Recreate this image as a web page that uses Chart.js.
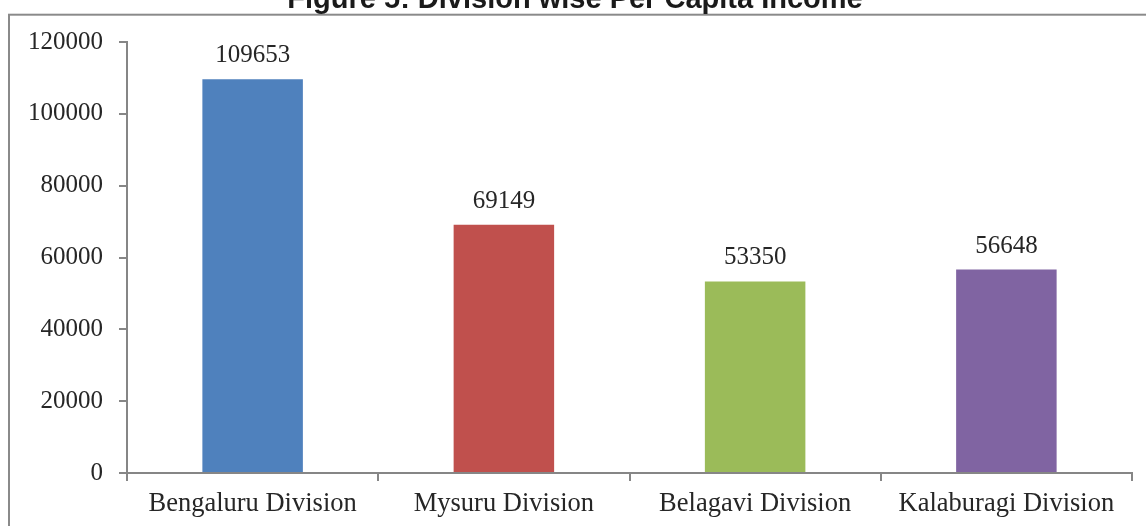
<!DOCTYPE html>
<html>
<head>
<meta charset="utf-8">
<script src="https://cdn.jsdelivr.net/npm/chart.js@4/dist/chart.umd.min.js"></script>
<style>
    body { margin: 0; background: #fff; }
    #wrap { width: 1146px; height: 526px; position: relative; }
</style>
</head>
<body>
<div id="wrap"><canvas id="incomeChart"></canvas></div>
<script>
const divisions = ["Bengaluru Division", "Mysuru Division", "Belagavi Division", "Kalaburagi Division"];
const perCapitaIncome = [109653, 69149, 53350, 56648];
const barColors = ["#4F81BD", "#C0504D", "#9BBB59", "#8064A2"];
const yTicks = [0, 20000, 40000, 60000, 80000, 100000, 120000];
const chartTitle = "Figure 5: Division wise Per Capita Income";

const serif = "'Liberation Serif', 'Times New Roman', serif";
const axisGray = "#868686";
const textColor = "#262626";

// outer frame and the (clipped) title above it
const framePlugin = {
    id: "frame",
    afterDraw(chart) {
        let ctx = chart.ctx;
        ctx.save();
        ctx.strokeStyle = "#8a8a8a";
        ctx.lineWidth = 2;
        ctx.strokeRect(9, 14.7, 1160, 600);
        ctx.fillStyle = "#1a1a1a";
        ctx.font = "bold 29px 'Liberation Sans', Arial, sans-serif";
        ctx.textAlign = "center";
        ctx.textBaseline = "alphabetic";
        ctx.fillText(chartTitle, 575, 8);
        ctx.restore();
    }
};

// value labels above the bars
const valueLabels = {
    id: "valueLabels",
    afterDatasetsDraw(chart) {
        let ctx = chart.ctx;
        let meta = chart.getDatasetMeta(0);
        ctx.save();
        ctx.fillStyle = textColor;
        ctx.font = "25px " + serif;
        ctx.textAlign = "center";
        ctx.textBaseline = "alphabetic";
        meta.data.forEach((bar, i) => {
            ctx.fillText(String(perCapitaIncome[i]), bar.x, bar.y - 17);
        });
        ctx.restore();
    }
};

new Chart(document.getElementById("incomeChart"), {
    type: "bar",
    data: {
        labels: divisions,
        datasets: [{
            label: "Per Capita Income",
            data: perCapitaIncome,
            backgroundColor: barColors,
            borderWidth: 0,
            categoryPercentage: 1,
            barPercentage: 0.4
        }]
    },
    options: {
        responsive: true,
        maintainAspectRatio: false,
        animation: false,
        layout: { padding: { top: 42, right: 14, left: 0, bottom: 0 } },
        plugins: {
            legend: { display: false },
            title: { display: false },
            tooltip: { enabled: false }
        },
        scales: {
            x: {
                grid: {
                    offset: true,
                    drawOnChartArea: false,
                    drawTicks: true,
                    tickLength: 8,
                    color: axisGray,
                    lineWidth: 2
                },
                border: { display: true, color: axisGray, width: 2 },
                ticks: {
                    color: textColor,
                    font: { family: serif, size: 26.5 },
                    padding: 7,
                    maxRotation: 0,
                    autoSkip: false
                },
                afterFit(scale) { scale.height = 53; }
            },
            y: {
                min: 0,
                max: 120000,
                afterBuildTicks(scale) {
                    scale.ticks = yTicks.map(v => ({ value: v }));
                },
                grid: {
                    drawOnChartArea: false,
                    drawTicks: true,
                    tickLength: 8,
                    color: axisGray,
                    lineWidth: 2
                },
                border: { display: true, color: axisGray, width: 2 },
                ticks: {
                    color: textColor,
                    font: { family: serif, size: 25 },
                    padding: 16,
                    callback: v => String(v)
                },
                afterFit(scale) { scale.width = 127; }
            }
        }
    },
    plugins: [framePlugin, valueLabels]
});
</script>
</body>
</html>
